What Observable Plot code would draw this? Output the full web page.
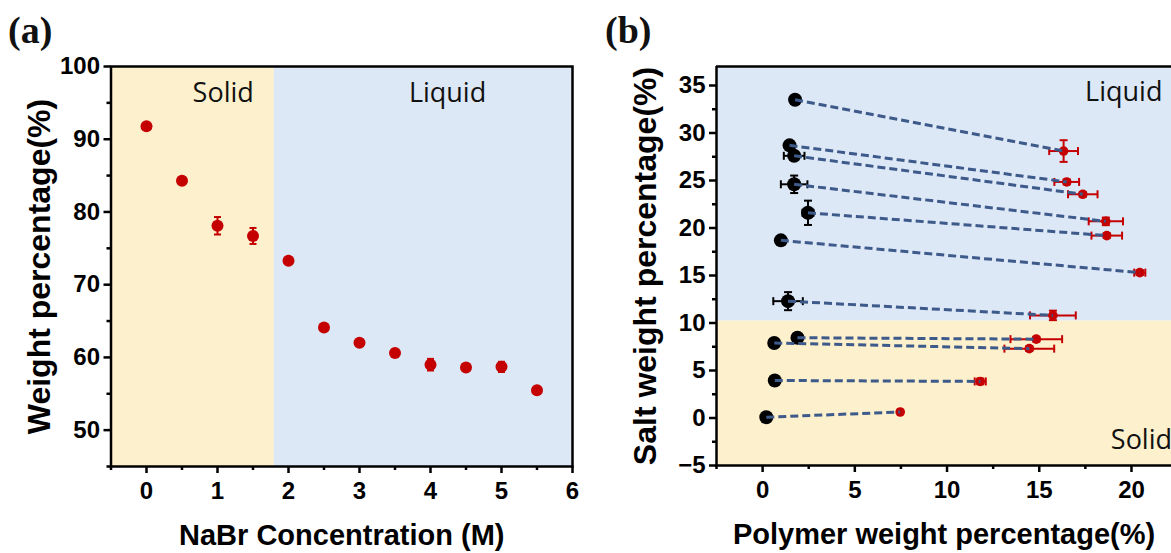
<!DOCTYPE html>
<html><head><meta charset="utf-8">
<script src="https://cdn.jsdelivr.net/npm/d3@7"></script>
<script src="https://cdn.jsdelivr.net/npm/@observablehq/plot@0.6"></script>
<style>
html,body{margin:0;padding:0;background:#fff;overflow:hidden;}
#wrap{position:relative;width:1171px;height:553px;overflow:hidden;background:#fff;}
.panel{position:absolute;top:0;}
.tag{position:absolute;font-family:"Liberation Serif","Times New Roman",serif;font-weight:bold;font-size:38px;line-height:38px;color:#111;}
</style></head><body>
<div id="wrap">
  <div id="pa" class="panel" style="left:0px"></div>
  <div id="pb" class="panel" style="left:600px"></div>
  <div class="tag" style="left:8px;top:11px">(a)</div>
  <div class="tag" style="left:605px;top:11px">(b)</div>
</div>
<script>
// ---------- Panel (a) data ----------
const concentration = [0, 0.5, 1, 1.5, 2, 2.5, 3, 3.5, 4, 4.5, 5, 5.5];
const weightPct     = [91.8, 84.3, 78.1, 76.7, 73.3, 64.1, 62.0, 60.6, 59.0, 58.6, 58.7, 55.5];
const weightErr     = [0.3, 0.3, 1.2, 1.1, 0.3, 0.4, 0.4, 0.5, 0.8, 0.4, 0.7, 0.3];
const phaseBoundaryA = 1.8;           // NaBr (M)
const xTicksA = [0, 1, 2, 3, 4, 5, 6];
const xMinorA = [-0.5, 0.5, 1.5, 2.5, 3.5, 4.5, 5.5];
const yTicksA = [50, 60, 70, 80, 90, 100];
const yMinorA = [45, 55, 65, 75, 85, 95];

// ---------- Panel (b) data ----------
const saltRichPolymer = [1.76, 1.46, 1.71, 1.71, 2.46, 0.99, 1.38, 1.89, 0.63, 0.66, 0.2];
const saltRichSalt    = [33.5, 28.7, 27.6, 24.6, 21.6, 18.7, 12.3, 8.45, 7.9, 3.95, 0.08];
const saltRichPolErr  = [0.1, 0.1, 0.56, 0.72, 0.3, 0.1, 0.8, 0.1, 0.1, 0.1, 0.1];
const saltRichSaltErr = [0.2, 0.3, 0.4, 0.92, 1.28, 0.2, 0.95, 0.2, 0.2, 0.2, 0.1];
const polyRichPolymer = [16.32, 16.49, 17.36, 18.61, 18.66, 20.45, 15.74, 14.84, 14.46, 11.8, 7.46];
const polyRichSalt    = [28.1, 24.85, 23.55, 20.7, 19.2, 15.3, 10.8, 8.3, 7.3, 3.85, 0.63];
const polyRichPolErr  = [0.78, 0.67, 0.8, 0.93, 0.83, 0.3, 1.24, 1.4, 1.35, 0.3, 0.1];
const polyRichSaltErr = [1.14, 0.25, 0.25, 0.4, 0.25, 0.25, 0.5, 0.25, 0.25, 0.3, 0.1];
const phaseBoundaryB = 10.2;          // salt wt%
const xTicksB = [0, 5, 10, 15, 20];
const xMinorB = [-2.5, 2.5, 7.5, 12.5, 17.5];
const yTicksB = [-5, 0, 5, 10, 15, 20, 25, 30, 35];
const yMinorB = [-2.5, 2.5, 7.5, 12.5, 17.5, 22.5, 27.5, 32.5];

// ---------- styling ----------
const FONT = "'Liberation Sans', Arial, Helvetica, sans-serif";
const LABELFONT = "'Open Sans', 'Noto Sans', sans-serif";
const RED = "#c40000";
const DASH = "#3d5a8a";
const YELLOW = "#fdf0cd";
const BLUE = "#dde8f6";

const capH = {draw(ctx, size) { const w = Math.sqrt(size / Math.PI); ctx.moveTo(-w, 0); ctx.lineTo(w, 0); }};
const capV = {draw(ctx, size) { const w = Math.sqrt(size / Math.PI); ctx.moveTo(0, -w); ctx.lineTo(0, w); }};

function axes(xMajor, xMinor, yMajor, yMinor) {
  const common = {label: null, strokeWidth: 2.5, stroke: "black"};
  return [
    Plot.axisX(xMajor, {...common, tickSize: 7, tickPadding: 8, fontSize: 24, fontWeight: "bold"}),
    Plot.axisX(xMinor, {...common, tickSize: 4, tickFormat: () => ""}),
    Plot.axisY(yMajor, {...common, tickSize: 7, tickPadding: 4, fontSize: 24, fontWeight: "bold"}),
    Plot.axisY(yMinor, {...common, tickSize: 4, tickFormat: () => ""})
  ];
}

// ---------- Panel (a) ----------
const ptsA = concentration.map((c, i) => ({x: c, y: weightPct[i], e: weightErr[i]}));
const capsA = ptsA.flatMap(d => [{x: d.x, y: d.y - d.e}, {x: d.x, y: d.y + d.e}]);
const xDomA = [-0.5, 6], yDomA = [45, 100];

const plotA = Plot.plot({
  width: 600, height: 553,
  marginLeft: 110.5, marginRight: 28, marginTop: 66, marginBottom: 87,
  x: {domain: xDomA},
  y: {domain: yDomA},
  style: {fontFamily: FONT, background: "transparent", color: "black"},
  marks: [
    Plot.rect([0], {x1: xDomA[0], x2: phaseBoundaryA, y1: yDomA[0], y2: yDomA[1], fill: YELLOW}),
    Plot.rect([0], {x1: phaseBoundaryA, x2: xDomA[1], y1: yDomA[0], y2: yDomA[1], fill: BLUE}),
    Plot.ruleX(ptsA, {x: "x", y1: d => d.y - d.e, y2: d => d.y + d.e, stroke: RED, strokeWidth: 2}),
    Plot.dot(capsA, {x: "x", y: "y", symbol: capH, r: 3.5, stroke: RED, strokeWidth: 2, fill: "none"}),
    Plot.dot(ptsA, {x: "x", y: "y", r: 6, fill: RED}),
    Plot.text(["Solid"], {x: 1.08, y: 96.3, text: d => d, fontSize: 27, fontFamily: LABELFONT, lineAnchor: "middle", fill: "#111"}),
    Plot.text(["Liquid"], {x: 4.24, y: 96.3, text: d => d, fontSize: 27, fontFamily: LABELFONT, lineAnchor: "middle", fill: "#111"}),
    Plot.frame({stroke: "black", strokeWidth: 2.5}),
    ...axes(xTicksA, xMinorA, yTicksA, yMinorA),
    Plot.text(["NaBr Concentration (M)"], {frameAnchor: "bottom", dy: 69, text: d => d, fontSize: 29, fontWeight: "bold", lineAnchor: "middle", textAnchor: "middle"}),
    Plot.text(["Weight percentage(%)"], {frameAnchor: "left", dx: -71, rotate: -90, text: d => d, fontSize: 32, fontWeight: "bold", lineAnchor: "middle", textAnchor: "middle"})
  ]
});
document.getElementById("pa").appendChild(plotA);

// ---------- Panel (b) ----------
const tie = saltRichPolymer.map((p, i) => ({
  bx: p, by: saltRichSalt[i], bex: saltRichPolErr[i], bey: saltRichSaltErr[i],
  rx: polyRichPolymer[i], ry: polyRichSalt[i], rex: polyRichPolErr[i], rey: polyRichSaltErr[i]
}));
const xDomB = [-2.5, 22.17], yDomB = [-5, 37];
const capsBx = (px, py, ex) => tie.flatMap(d => [{x: d[px] - d[ex], y: d[py]}, {x: d[px] + d[ex], y: d[py]}]);
const capsBy = (px, py, ey) => tie.flatMap(d => [{x: d[px], y: d[py] - d[ey]}, {x: d[px], y: d[py] + d[ey]}]);

const plotB = Plot.plot({
  width: 571, height: 553,
  marginLeft: 116, marginRight: 0, marginTop: 66, marginBottom: 88,
  x: {domain: xDomB},
  y: {domain: yDomB},
  style: {fontFamily: FONT, background: "transparent", color: "black", overflow: "hidden"},
  marks: [
    Plot.rect([0], {x1: xDomB[0], x2: xDomB[1], y1: phaseBoundaryB, y2: yDomB[1], fill: BLUE}),
    Plot.rect([0], {x1: xDomB[0], x2: xDomB[1], y1: yDomB[0], y2: phaseBoundaryB, fill: YELLOW}),
    // polymer-rich (red)
    Plot.ruleY(tie, {y: "ry", x1: d => d.rx - d.rex, x2: d => d.rx + d.rex, stroke: RED, strokeWidth: 2}),
    Plot.ruleX(tie, {x: "rx", y1: d => d.ry - d.rey, y2: d => d.ry + d.rey, stroke: RED, strokeWidth: 2}),
    Plot.dot(capsBx("rx", "ry", "rex"), {x: "x", y: "y", symbol: capV, r: 4, stroke: RED, strokeWidth: 2, fill: "none"}),
    Plot.dot(capsBy("rx", "ry", "rey"), {x: "x", y: "y", symbol: capH, r: 4, stroke: RED, strokeWidth: 2, fill: "none"}),
    Plot.dot(tie, {x: "rx", y: "ry", r: 4.8, fill: RED}),
    // salt-rich (black)
    Plot.ruleY(tie, {y: "by", x1: d => d.bx - d.bex, x2: d => d.bx + d.bex, stroke: "black", strokeWidth: 2}),
    Plot.ruleX(tie, {x: "bx", y1: d => d.by - d.bey, y2: d => d.by + d.bey, stroke: "black", strokeWidth: 2}),
    Plot.dot(capsBx("bx", "by", "bex"), {x: "x", y: "y", symbol: capV, r: 4, stroke: "black", strokeWidth: 2, fill: "none"}),
    Plot.dot(capsBy("bx", "by", "bey"), {x: "x", y: "y", symbol: capH, r: 4, stroke: "black", strokeWidth: 2, fill: "none"}),
    Plot.dot(tie, {x: "bx", y: "by", r: 7, fill: "black"}),
    // tie lines
    Plot.link(tie, {x1: "bx", y1: "by", x2: "rx", y2: "ry", stroke: DASH, strokeWidth: 3, strokeDasharray: "8,4"}),
    Plot.text(["Liquid"], {x: 19.58, y: 34.3, text: d => d, fontSize: 27, fontFamily: LABELFONT, lineAnchor: "middle", fill: "#111"}),
    Plot.text(["Solid"], {x: 18.88, y: -2.4, text: d => d, fontSize: 27, fontFamily: LABELFONT, lineAnchor: "middle", textAnchor: "start", fill: "#111"}),
    // frame (top, bottom, left; right edge is cropped)
    Plot.ruleY([yDomB[1]], {stroke: "black", strokeWidth: 2.5}),
    Plot.ruleY([yDomB[0]], {stroke: "black", strokeWidth: 2.5}),
    Plot.ruleX([xDomB[0]], {stroke: "black", strokeWidth: 2.5}),
    ...axes(xTicksB, xMinorB, yTicksB, yMinorB),
    Plot.text(["Polymer weight percentage(%)"], {frameAnchor: "bottom", dy: 69, text: d => d, fontSize: 29, fontWeight: "bold", lineAnchor: "middle", textAnchor: "middle"}),
    Plot.text(["Salt weight percentage(%)"], {frameAnchor: "left", dx: -71, rotate: -90, text: d => d, fontSize: 32, fontWeight: "bold", lineAnchor: "middle", textAnchor: "middle"})
  ]
});
document.getElementById("pb").appendChild(plotB);
</script>
</body></html>
